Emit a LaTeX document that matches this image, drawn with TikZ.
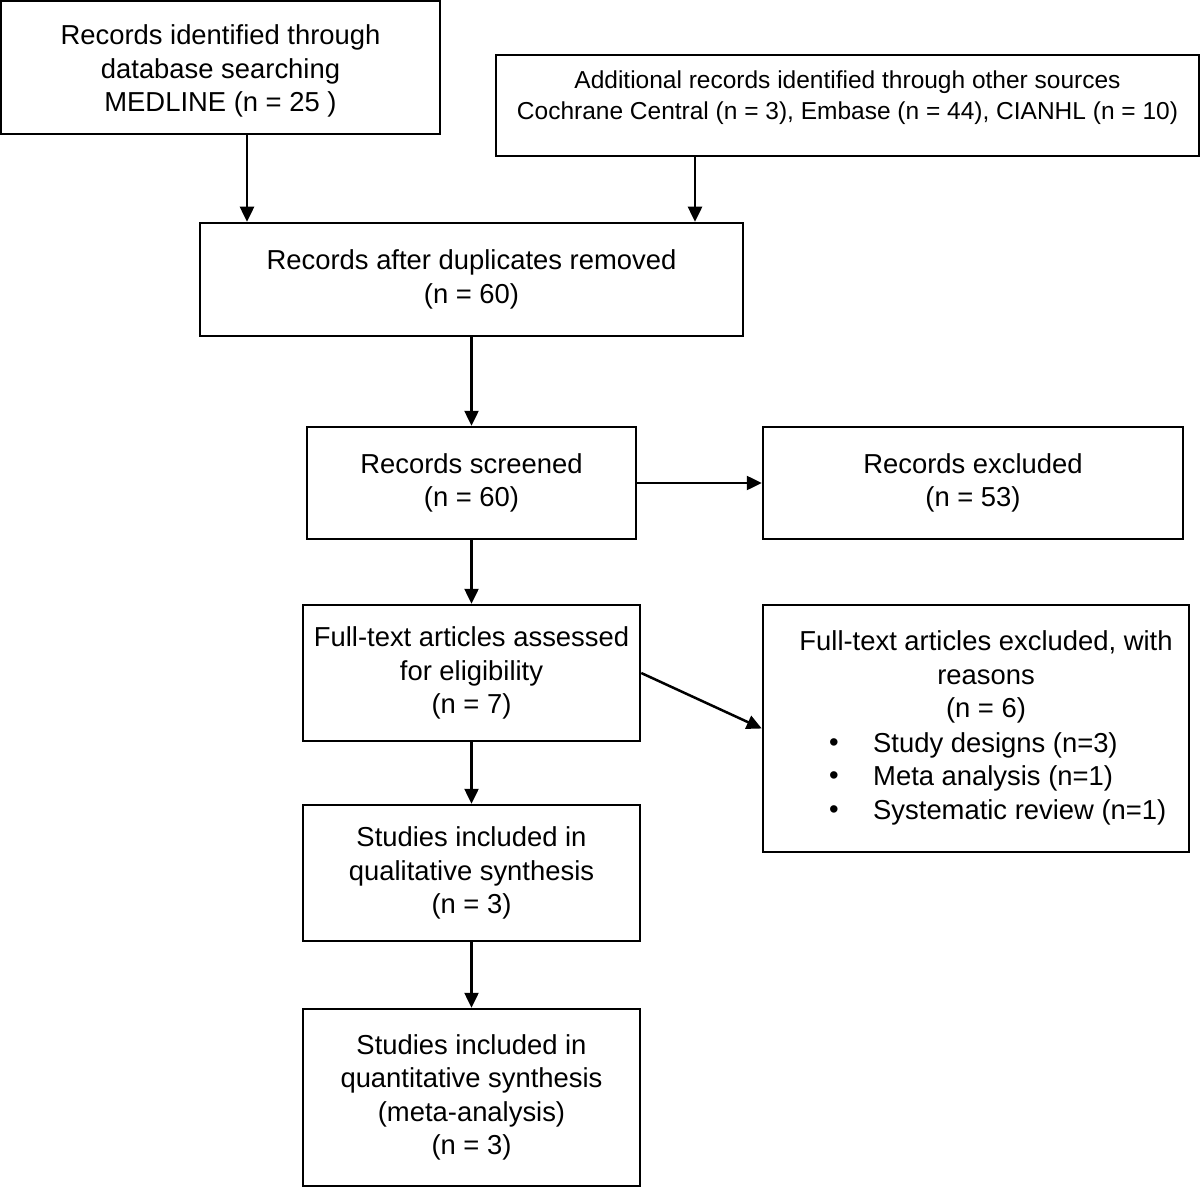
\documentclass[tikz,border=0pt]{standalone}
\usepackage{fontspec}
\setmainfont{Liberation Sans}
\usetikzlibrary{arrows.meta}
\begin{document}
\begin{tikzpicture}[x=1pt,y=-1pt,
  box/.style={draw=black,line width=2.5pt,rectangle,inner sep=0pt,align=center,
    font=\fontsize{27.4}{33.5}\selectfont},
  txt/.style={inner sep=0pt,align=center,font=\fontsize{27.4}{33.5}\selectfont},
  smalltxt/.style={inner sep=0pt,align=center,font=\fontsize{24.5}{31}\selectfont},
  arr/.style={line width=2.5pt,-{Triangle[length=15pt,width=14pt]}}]
\useasboundingbox (0,0) rectangle (1200,1190);
\node[box,minimum width=439pt,minimum height=133pt] (A) at (220.5,67.5) {};
\node[txt] (At) at (220.5,71)
  {Records identified through\\database searching\\MEDLINE (n = 25 )};
\node[box,minimum width=703pt,minimum height=101pt] (B) at (847.5,105.5) {};
\node[smalltxt] (Bt) at (847.5,97.5)
  {Additional records identified through other sources\\Cochrane Central (n = 3), Embase (n = 44), CIANHL (n = 10)};
\node[box,minimum width=543pt,minimum height=113pt] (C) at (471.5,279.5)
  {Records after duplicates removed\\(n = 60)};
\node[box,minimum width=329pt,minimum height=112pt] (D) at (471.5,483)
  {Records screened\\(n = 60)};
\node[box,minimum width=420pt,minimum height=112pt] (E) at (973,483)
  {Records excluded\\(n = 53)};
\node[box,minimum width=337pt,minimum height=136pt] (F) at (471.5,673)
  {Full-text articles assessed\\for eligibility\\(n = 7)};
\node[box,minimum width=426pt,minimum height=247pt] (G) at (976,728.5) {};
\node[txt] (Gt) at (986,677)
  {Full-text articles excluded, with\\reasons\\(n = 6)};
\node[txt,anchor=west] (G1) at (873,745) {Study designs (n=3)};
\node[txt,anchor=west] (G2) at (873,778.5) {Meta analysis (n=1)};
\node[txt,anchor=west] (G3) at (873,812) {Systematic review (n=1)};
\node[txt] (b1) at (834,745) {•};
\node[txt] (b2) at (834,778.5) {•};
\node[txt] (b3) at (834,812) {•};
\node[box,minimum width=337pt,minimum height=136pt] (H) at (471.5,873)
  {Studies included in\\qualitative synthesis\\(n = 3)};
\node[box,minimum width=337pt,minimum height=177pt] (I) at (471.5,1097.5)
  {Studies included in\\quantitative synthesis\\(meta-analysis)\\(n = 3)};
\coordinate (xa) at (247,0);
\coordinate (xb) at (695,0);
\draw[arr] (A.south -| xa) -- (C.north -| xa);
\draw[arr] (B.south -| xb) -- (C.north -| xb);
\draw[arr] (C.south) -- (D.north);
\draw[arr] (D.east) -- (E.west);
\draw[arr] (D.south) -- (F.north);
\draw[arr] (F.east) -- (G.west);
\draw[arr] (F.south) -- (H.north);
\draw[arr] (H.south) -- (I.north);
\end{tikzpicture}
\end{document}
